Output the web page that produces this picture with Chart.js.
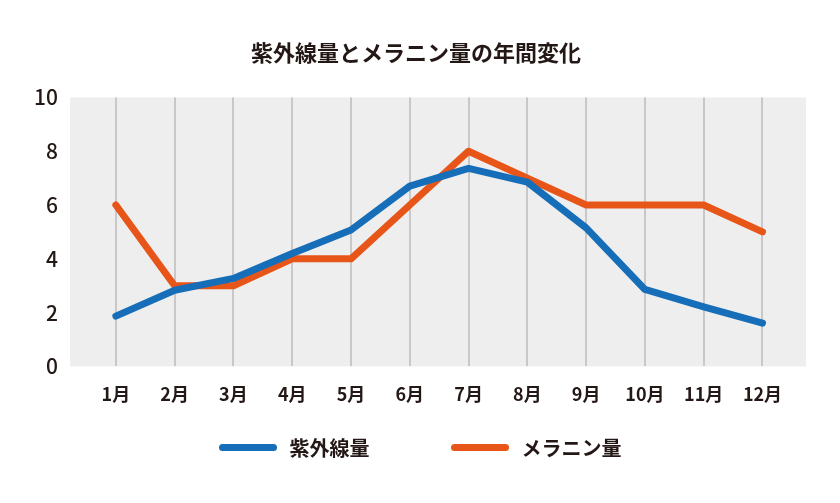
<!DOCTYPE html>
<html lang="ja">
<head>
<meta charset="utf-8">
<title>紫外線量とメラニン量の年間変化</title>
<script src="https://cdn.jsdelivr.net/npm/chart.js@4"></script>
<style>
    html, body { margin: 0; padding: 0; background: #fff; }
    #wrap { position: relative; width: 840px; height: 503px; }
    #legend {
        position: absolute; left: 0; top: 433px; width: 840px; height: 28px;
        display: flex; justify-content: center; align-items: center; gap: 81px;
        font-family: 'Noto Sans CJK JP', 'Noto Sans', sans-serif;
        font-size: 20px; font-weight: bold; color: #231815;
    }
    .item { display: flex; align-items: center; }
    .swatch { width: 58px; height: 7px; border-radius: 4px; margin-right: 13px; }
</style>
</head>
<body>
<div id="wrap">
    <canvas id="chart" width="840" height="503"></canvas>
    <div id="legend"></div>
</div>
<script>
const months = ['1月', '2月', '3月', '4月', '5月', '6月', '7月', '8月', '9月', '10月', '11月', '12月'];
const uvValues = [1.87, 2.83, 3.27, 4.2, 5.07, 6.7, 7.36, 6.85, 5.15, 2.86, 2.21, 1.61];
const melaninValues = [6, 3, 3, 4, 4, 6, 8, 7, 6, 6, 6, 5];
const yTicks = [0, 2, 4, 6, 8, 10];

const TEXT_COLOR = '#231815';
Chart.defaults.font.family = "'Noto Sans CJK JP', 'Noto Sans', sans-serif";
Chart.defaults.color = TEXT_COLOR;

// gray plot background
const plotBackground = {
    id: 'plotBackground',
    beforeDraw(chart) {
        const { ctx, chartArea: a } = chart;
        ctx.save();
        ctx.fillStyle = '#eeeeee';
        ctx.fillRect(a.left, a.top, a.right - a.left, a.bottom - a.top);
        ctx.restore();
    }
};

const chart = new Chart(document.getElementById('chart'), {
    type: 'line',
    data: {
        labels: months.map((m, i) => i + 1),
        datasets: [
            { label: '紫外線量', data: uvValues, borderColor: '#166eb9', backgroundColor: '#166eb9' },
            { label: 'メラニン量', data: melaninValues, borderColor: '#e85519', backgroundColor: '#e85519' },
        ]
    },
    options: {
        responsive: false,
        animation: false,
        datasets: {
            line: {
                borderWidth: 7, pointRadius: 0, tension: 0,
                borderCapStyle: 'round', borderJoinStyle: 'round'
            }
        },
        layout: { padding: { left: 26, right: 34, top: 0, bottom: 81 } },
        plugins: {
            legend: { display: false },
            tooltip: { enabled: false },
            title: {
                display: true,
                text: '紫外線量とメラニン量の年間変化',
                font: { size: 22, weight: 'bold' },
                color: TEXT_COLOR,
                padding: { top: 39, bottom: 32 }
            }
        },
        scales: {
            x: {
                type: 'linear',
                min: 0.22,
                max: 12.74,
                afterBuildTicks: scale => { scale.ticks = months.map((m, i) => ({ value: i + 1 })); },
                grid: { color: '#c8c8c8', lineWidth: 2, drawTicks: false },
                border: { display: false },
                ticks: {
                    padding: 17,
                    font: { size: 18, weight: 'bold' },
                    color: TEXT_COLOR,
                    callback: v => months[v - 1]
                }
            },
            y: {
                min: 0,
                max: 10,
                afterBuildTicks: scale => { scale.ticks = yTicks.map(v => ({ value: v })); },
                afterFit: scale => { scale.width = 44; },
                grid: { display: false, drawTicks: false },
                border: { display: false },
                ticks: {
                    padding: 12,
                    font: { size: 21, weight: '500' },
                    color: TEXT_COLOR
                }
            }
        }
    },
    plugins: [plotBackground]
});

// legend built from the chart's datasets
const legendEl = document.getElementById('legend');
chart.data.datasets.forEach(ds => {
    const item = document.createElement('div');
    item.className = 'item';
    item.innerHTML = `<span class="swatch" style="background:${ds.borderColor}"></span><span>${ds.label}</span>`;
    legendEl.appendChild(item);
});
</script>
</body>
</html>
